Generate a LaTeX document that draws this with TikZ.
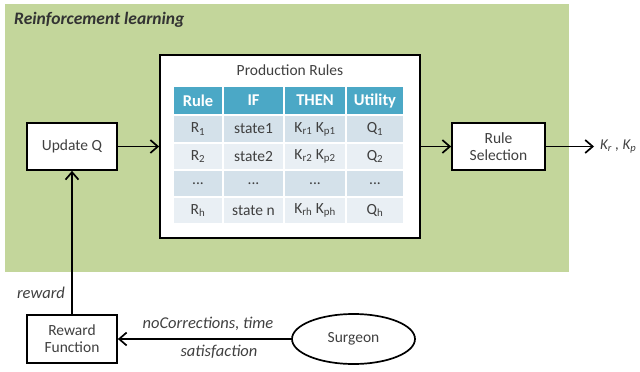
\documentclass[tikz,border=0pt]{standalone}
\usepackage{fontspec}
\setmainfont{Carlito}
\usetikzlibrary{arrows.meta,shapes.geometric}

\definecolor{rlgreen}{RGB}{195,214,155}
\definecolor{hdrblue}{RGB}{75,168,198}
\definecolor{rowdark}{RGB}{212,225,234}
\definecolor{rowlight}{RGB}{233,239,244}
\definecolor{txt}{RGB}{64,64,64}

\tikzset{
  box/.style={draw=black, line width=1.7pt, fill=white, text=txt,
    align=center, inner sep=0pt, font=\fontsize{15.5}{17}\selectfont},
  arr/.style={draw=black, line width=1.7pt,
    -{Straight Barb[length=7.5pt,width=13pt,line width=1.7pt]}},
  cell/.style={rectangle, inner sep=0pt, text=txt,
    font=\fontsize{15.5}{17}\selectfont},
  hcell/.style={cell, fill=hdrblue, text=white,
    font=\fontsize{16.5}{18}\selectfont\bfseries},
  lbl/.style={text=txt, inner sep=0pt,
    font=\fontsize{16.5}{18}\selectfont\itshape},
}

\begin{document}
\begin{tikzpicture}[x=1pt,y=-1pt]
\useasboundingbox (0,0) rectangle (640,372);

% background region of the learning loop
\fill[rlgreen] (5,4) rectangle (569,272);
\node[anchor=west, inner sep=0pt, text=black!80,
  font=\fontsize{17.5}{19}\selectfont\bfseries\itshape]
  (rltitle) at (14,20) {Reinforcement learning};

% production rule table
\node[box, minimum width=260pt, minimum height=183pt] (prod) at (290,146.5) {};
\node[cell, text=txt, font=\fontsize{15.5}{17}\selectfont] (ptitle) at (290,70) {Production Rules};

% header row
\node[hcell, minimum width=48pt, minimum height=27pt] (h1) at (198,100.5) {Rule};
\node[hcell, minimum width=59pt, minimum height=27pt] (h2) at (253.5,100.5) {IF};
\node[hcell, minimum width=60pt, minimum height=27pt] (h3) at (315,100.5) {THEN};
\node[hcell, minimum width=56pt, minimum height=27pt] (h4) at (375,100.5) {Utility};

% row 1
\node[cell, fill=rowdark, minimum width=48pt, minimum height=26pt] (a1) at (198,129) {R\textsubscript{1}};
\node[cell, fill=rowdark, minimum width=59pt, minimum height=26pt] (b1) at (253.5,129) {state1};
\node[cell, fill=rowdark, minimum width=60pt, minimum height=26pt] (c1) at (315,129) {K\textsubscript{r1} K\textsubscript{p1}};
\node[cell, fill=rowdark, minimum width=56pt, minimum height=26pt] (d1) at (375,129) {Q\textsubscript{1}};

% row 2
\node[cell, fill=rowlight, minimum width=48pt, minimum height=25pt] (a2) at (198,156.5) {R\textsubscript{2}};
\node[cell, fill=rowlight, minimum width=59pt, minimum height=25pt] (b2) at (253.5,156.5) {state2};
\node[cell, fill=rowlight, minimum width=60pt, minimum height=25pt] (c2) at (315,156.5) {K\textsubscript{r2} K\textsubscript{p2}};
\node[cell, fill=rowlight, minimum width=56pt, minimum height=25pt] (d2) at (375,156.5) {Q\textsubscript{2}};

% row 3
\node[cell, fill=rowdark, minimum width=48pt, minimum height=25pt] (a3) at (198,183.5) {...};
\node[cell, fill=rowdark, minimum width=59pt, minimum height=25pt] (b3) at (253.5,183.5) {...};
\node[cell, fill=rowdark, minimum width=60pt, minimum height=25pt] (c3) at (315,183.5) {...};
\node[cell, fill=rowdark, minimum width=56pt, minimum height=25pt] (d3) at (375,183.5) {...};

% row 4
\node[cell, fill=rowlight, minimum width=48pt, minimum height=25pt] (a4) at (198,210.5) {R\textsubscript{h}};
\node[cell, fill=rowlight, minimum width=59pt, minimum height=25pt] (b4) at (253.5,210.5) {state n};
\node[cell, fill=rowlight, minimum width=60pt, minimum height=25pt] (c4) at (315,210.5) {K\textsubscript{rh} K\textsubscript{ph}};
\node[cell, fill=rowlight, minimum width=56pt, minimum height=25pt] (d4) at (375,210.5) {Q\textsubscript{h}};

% blocks around the table
\node[box, minimum width=90pt, minimum height=47pt] (upd) at (72,146.5) {Update Q};
\node[box, minimum width=93pt, minimum height=47pt] (sel) at (498.5,146.5) {Rule\\Selection};
\node[box, minimum width=90pt, minimum height=48pt] (rew) at (72,339) {Reward\\Function};
\node[ellipse, draw=black, line width=1.7pt, fill=white, text=txt, inner sep=0pt,
  minimum width=123pt, minimum height=50pt, font=\fontsize{15.5}{17}\selectfont]
  (surg) at (353.5,339) {Surgeon};

% output of the rule selection
\coordinate (kout) at (594,146.5);
\node[lbl, anchor=west, font=\fontsize{15}{17}\selectfont\itshape] (klbl) at (600,146.5) {K\textsubscript{r} , K\textsubscript{p}};

% connectors
\draw[arr] (upd) -- (prod);
\draw[arr] (prod) -- (sel);
\draw[arr] (sel) -- (kout);
\draw[arr] (rew) -- (upd);
\draw[arr] (surg) -- (rew);

% connector labels
\node[lbl] (rwl) at (41,293) {reward};
\node[lbl] (ncl) at (208,324) {noCorrections, time};
\node[lbl] (stl) at (219,352) {satisfaction};
\end{tikzpicture}
\end{document}
